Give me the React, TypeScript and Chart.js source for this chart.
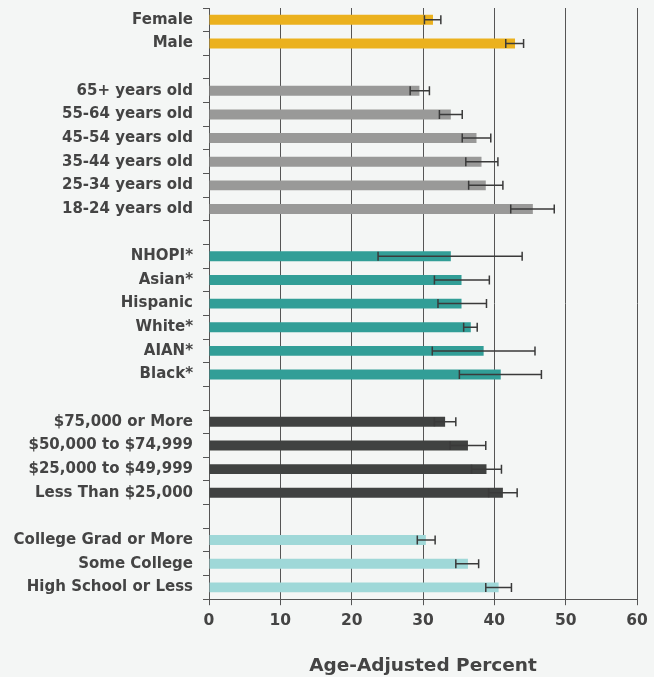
import React, { useEffect, useRef } from "react";
import { Chart, registerables } from "chart.js";

Chart.register(...registerables);

const categories = [
  "Female", "Male", "",
  "65+ years old", "55-64 years old", "45-54 years old", "35-44 years old", "25-34 years old", "18-24 years old", "",
  "NHOPI*", "Asian*", "Hispanic", "White*", "AIAN*", "Black*", "",
  "$75,000 or More", "$50,000 to $74,999", "$25,000 to $49,999", "Less Than $25,000", "",
  "College Grad or More", "Some College", "High School or Less",
];

const values = [
  31.4, 42.9, null,
  29.5, 33.9, 37.5, 38.2, 38.8, 45.4, null,
  33.9, 35.4, 35.4, 36.7, 38.5, 40.9, null,
  33.1, 36.3, 38.9, 41.2, null,
  30.4, 36.3, 40.6,
];

const lowerCI = [
  30.2, 41.6, null,
  28.2, 32.3, 35.5, 36.0, 36.4, 42.3, null,
  23.7, 31.6, 32.1, 35.7, 31.3, 35.1, null,
  31.6, 33.8, 36.8, 39.2, null,
  29.2, 34.6, 38.8,
];

const upperCI = [
  32.5, 44.1, null,
  30.9, 35.5, 39.5, 40.5, 41.2, 48.4, null,
  43.9, 39.3, 38.9, 37.6, 45.7, 46.6, null,
  34.6, 38.8, 41.0, 43.2, null,
  31.7, 37.8, 42.4,
];

const groupColors = [
  "#EBB11E", "#EBB11E", "#EBB11E",
  "#999998", "#999998", "#999998", "#999998", "#999998", "#999998", "#999998",
  "#329E97", "#329E97", "#329E97", "#329E97", "#329E97", "#329E97", "#329E97",
  "#404241", "#404241", "#404241", "#404241", "#404241",
  "#9FD8D8", "#9FD8D8", "#9FD8D8",
];

const xTicks = [0, 10, 20, 30, 40, 50, 60];

const FONT = "'DejaVu Sans', 'Open Sans', sans-serif";
const TEXT = "#444444";

const errorBarPlugin = {
  id: "errorBars",
  afterDatasetsDraw(chart: any) {
    const ctx = chart.ctx;
    const xs = chart.scales.x;
    const ys = chart.scales.y;
    ctx.save();
    ctx.strokeStyle = "#3a3a3a";
    ctx.lineWidth = 1.5;
    for (let i = 0; i < categories.length; i++) {
      const lo = lowerCI[i];
      const hi = upperCI[i];
      if (lo == null || hi == null) continue;
      const y = ys.getPixelForValue(i);
      const x1 = xs.getPixelForValue(lo);
      const x2 = xs.getPixelForValue(hi);
      ctx.beginPath();
      ctx.moveTo(x1, y);
      ctx.lineTo(x2, y);
      ctx.moveTo(x1, y - 4.5);
      ctx.lineTo(x1, y + 4.5);
      ctx.moveTo(x2, y - 4.5);
      ctx.lineTo(x2, y + 4.5);
      ctx.stroke();
    }
    ctx.restore();
  },
};

const bgPlugin = {
  id: "bg",
  beforeDraw(chart: any) {
    const ctx = chart.ctx;
    ctx.save();
    ctx.fillStyle = "#F4F6F5";
    ctx.fillRect(0, 0, chart.width, chart.height);
    ctx.restore();
  },
};

export default function App() {
  const ref = useRef<HTMLCanvasElement | null>(null);
  useEffect(() => {
    document.body.style.margin = "0";
    document.body.style.background = "#F4F6F5";
    if (!ref.current) return;
    const chart = new Chart(ref.current, {
      type: "bar",
      data: {
        labels: categories,
        datasets: [
          {
            data: values as any,
            backgroundColor: groupColors,
            barPercentage: 0.42,
            categoryPercentage: 1,
            borderWidth: 0,
          },
        ],
      },
      options: {
        indexAxis: "y",
        animation: false,
        responsive: false,
        maintainAspectRatio: false,
        layout: { padding: { top: 8, right: 17, left: 0, bottom: 0 } },
        plugins: { legend: { display: false }, tooltip: { enabled: false } },
        scales: {
          x: {
            type: "linear",
            min: 0,
            max: 60,
            afterBuildTicks: (axis: any) => {
              axis.ticks = xTicks.map((v) => ({ value: v }));
            },
            grid: {
              color: "#555555",
              lineWidth: 1,
              drawTicks: true,
              tickLength: 6,
              tickColor: "#555555",
            },
            border: { display: true, color: "#555555", width: 1 },
            ticks: {
              color: TEXT,
              font: { family: FONT, size: 15.5, weight: "bold" },
              padding: 6,
            },
            title: {
              display: true,
              text: "Age-Adjusted Percent",
              color: TEXT,
              font: { family: FONT, size: 18.5, weight: "bold" },
              padding: { top: 19, bottom: 0 },
            },
          },
          y: {
            type: "category",
            afterFit: (axis: any) => {
              axis.width = 209;
              axis.paddingTop = 0;
              axis.paddingBottom = 0;
            },
            grid: {
              drawOnChartArea: false,
              drawTicks: true,
              tickLength: 6,
              tickColor: "#555555",
              offset: true,
            },
            border: { display: true, color: "#555555", width: 1 },
            ticks: {
              color: TEXT,
              font: { family: FONT, size: 15, weight: "bold" },
              padding: 10,
              autoSkip: false,
            },
          },
        },
      },
      plugins: [bgPlugin, errorBarPlugin],
    });
    return () => chart.destroy();
  }, []);
  return (
    <div style={{ width: 654, height: 677, background: "#F4F6F5" }}>
      <canvas ref={ref} width={654} height={677} style={{ display: "block" }} />
    </div>
  );
}
